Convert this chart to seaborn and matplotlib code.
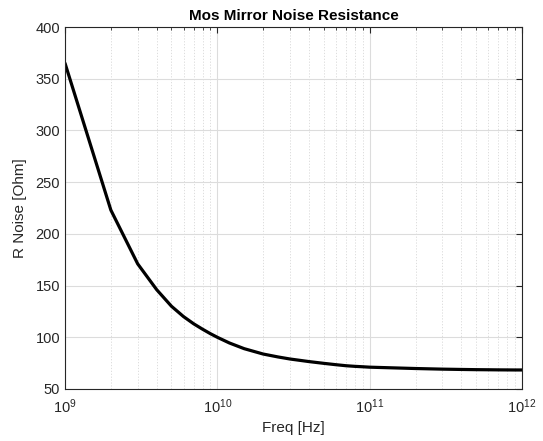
import numpy as np
import pandas as pd
import matplotlib
matplotlib.use("Agg")
import matplotlib.pyplot as plt
import seaborn as sns
from matplotlib.ticker import LogLocator, NullFormatter, MultipleLocator

freq_hz = [1e9, 2e9, 3e9, 4e9, 5e9, 6e9, 7e9, 8e9, 9e9,
           1e10, 1.2e10, 1.5e10, 2e10, 2.5e10, 3e10, 4e10, 5e10, 6e10, 7e10, 8e10, 9e10,
           1e11, 2e11, 3e11, 4e11, 5e11, 6e11, 7e11, 8e11, 9e11, 1e12]
r_noise_ohm = [365, 223, 171, 146, 130, 120, 113, 107.8, 103.5,
               100, 94.5, 89, 83.8, 81, 79, 76.5, 74.8, 73.5, 72.5, 71.9, 71.5,
               71.1, 69.8, 69.2, 68.9, 68.7, 68.6, 68.5, 68.45, 68.4, 68.4]

title = "Mos Mirror Noise Resistance"
xlabel = "Freq [Hz]"
ylabel = "R Noise [Ohm]"

df = pd.DataFrame({"freq": freq_hz, "r": r_noise_ohm})

sns.set_style("white")
plt.rcParams["font.family"] = ["Liberation Sans", "DejaVu Sans"]
plt.rcParams["mathtext.fontset"] = "custom"
plt.rcParams["mathtext.rm"] = "Liberation Sans"
plt.rcParams["mathtext.it"] = "Liberation Sans"

fig = plt.figure(figsize=(5.43, 4.41), dpi=100)
ax = fig.add_axes([65/543, 1-389/441, (522-65)/543, (389-27)/441])

sns.lineplot(data=df, x="freq", y="r", ax=ax, color="black", linewidth=2.3)
ax.set_xscale("log")
ax.set_xlim(1e9, 1e12)
ax.set_ylim(50, 400)
ax.yaxis.set_major_locator(MultipleLocator(50))
ax.xaxis.set_major_locator(LogLocator(base=10, numticks=10))
ax.xaxis.set_minor_locator(LogLocator(base=10, subs=np.arange(2, 10), numticks=20))
ax.xaxis.set_minor_formatter(NullFormatter())

ax.grid(True, which="major", axis="both", color="#dcdcdc", linewidth=0.8, linestyle="-")
ax.grid(True, which="minor", axis="x", color="#d8d8d8", linewidth=0.6, linestyle=(0, (1.5, 2)))
ax.set_axisbelow(True)

for s in ax.spines.values():
    s.set_color("#262626")
    s.set_linewidth(0.8)

ax.tick_params(which="both", direction="in", top=True, right=True, colors="#262626",
               labelcolor="#262626", labelsize=10.5)
ax.tick_params(which="major", length=4, width=0.8)
ax.tick_params(which="minor", length=2.5, width=0.6)
ax.tick_params(axis="x", which="major", pad=6)

ax.set_title(title, fontsize=11, fontweight="bold", color="black", pad=5)
ax.set_xlabel(xlabel, fontsize=11, color="#262626", labelpad=4)
ax.set_ylabel(ylabel, fontsize=11, color="#262626", labelpad=6)

fig.savefig("out.png", dpi=100)
